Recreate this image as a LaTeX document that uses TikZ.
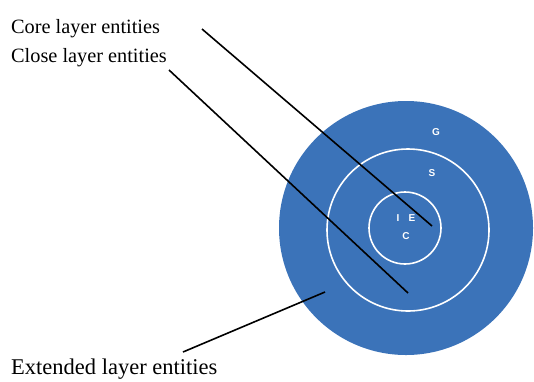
\documentclass[tikz,border=0pt]{standalone}
\usepackage{fontspec}
\setmainfont{Liberation Serif}
\setsansfont{Liberation Sans}
\definecolor{layerblue}{RGB}{59,115,185}
\begin{document}
\begin{tikzpicture}[x=1pt, y=-1pt,
      L/.style={draw = white, line width = 1.6pt},
      T/.style={anchor = base west, inner sep = 0pt, font = \fontsize{20.3}{22}\selectfont},
      W/.style={text = white, inner sep = 0pt, font = \sffamily\bfseries\fontsize{10}{11}\selectfont},
      P/.style={line width = 1.6pt}
    ]
    \useasboundingbox (0,0) rectangle (534,381);
    \fill [layerblue] (406,228) circle (127);
    \draw [L] (408,230) circle (81);
    \draw [L] (405,228) circle (36);
    \node [W] (g) at (436,132) {G};
    \node [W] (s) at (432,173) {S};
    \node [W] (i) at (398,218) {I};
    \node [W] (e) at (412,218) {E};
    \node [W] (c) at (406,236) {C};
    \node [T] (core) at (11,33) {Core layer entities};
    \node [T] (close) at (11,62) {Close layer entities};
    \node [T, font = \fontsize{22.5}{24}\selectfont] (ext) at (11,374) {Extended layer entities};
    \coordinate (coreA) at (202,29);
    \coordinate (coreB) at (432,226);
    \coordinate (closeA) at (169,70);
    \coordinate (closeB) at (408,293);
    \coordinate (extA) at (183,352);
    \coordinate (extB) at (325,292);
    \draw [P] (coreA) -- (coreB);
    \draw [P] (closeA) -- (closeB);
    \draw [P] (extA) -- (extB);
  \end{tikzpicture}
\end{document}
